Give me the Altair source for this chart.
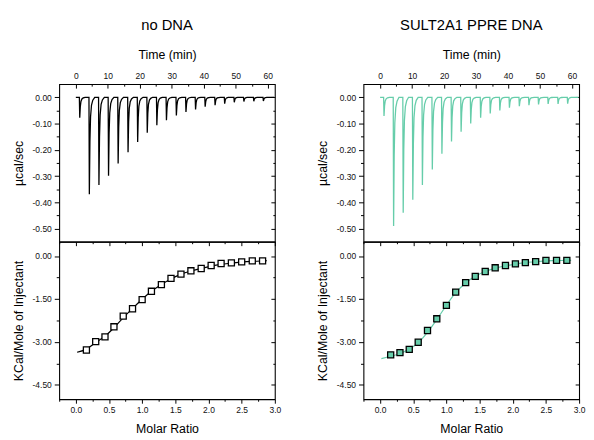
import altair as alt
import pandas as pd

# ---------------- data ----------------
inj_time = [1.1, 4.1, 7.1, 10.1, 13.1, 16.2, 19.2, 22.2, 25.2, 28.2,
            31.3, 34.3, 37.3, 40.3, 43.4, 46.4, 49.4, 52.4, 55.5, 58.5]
peak_nodna = [-0.078, -0.369, -0.334, -0.299, -0.252, -0.209, -0.170, -0.135, -0.106, -0.087,
              -0.069, -0.056, -0.046, -0.036, -0.030, -0.024, -0.019, -0.016, -0.015, -0.014]
peak_ppre = [-0.071, -0.490, -0.440, -0.390, -0.334, -0.275, -0.215, -0.168, -0.131, -0.100,
             -0.078, -0.062, -0.050, -0.040, -0.034, -0.030, -0.027, -0.025, -0.025, -0.024]

molar_ratio = [0.16, 0.30, 0.44, 0.575, 0.715, 0.855, 1.0, 1.14, 1.29, 1.435,
               1.585, 1.735, 1.89, 2.04, 2.19, 2.345, 2.50, 2.66, 2.815]
heat_nodna = [-3.28, -2.99, -2.82, -2.47, -2.10, -1.84, -1.52, -1.23, -1.00, -0.78,
              -0.63, -0.515, -0.435, -0.33, -0.26, -0.24, -0.205, -0.17, -0.17]
heat_ppre = [-3.45, -3.37, -3.26, -3.01, -2.60, -2.19, -1.72, -1.26, -0.93, -0.71,
             -0.54, -0.41, -0.33, -0.275, -0.23, -0.195, -0.15, -0.15, -0.15]

fit_ratio = [0.02, 0.16, 0.30, 0.44, 0.58, 0.72, 0.86, 1.0, 1.14, 1.29, 1.44,
             1.59, 1.74, 1.89, 2.04, 2.19, 2.34, 2.50, 2.66, 2.82, 2.88]
fit_nodna = [-3.36, -3.25, -3.02, -2.80, -2.49, -2.14, -1.82, -1.51, -1.23, -0.99, -0.79,
             -0.63, -0.52, -0.43, -0.35, -0.29, -0.25, -0.21, -0.185, -0.17, -0.165]
fit_ppre = [-3.58, -3.50, -3.40, -3.25, -3.02, -2.65, -2.20, -1.72, -1.28, -0.94, -0.70,
            -0.53, -0.42, -0.34, -0.28, -0.23, -0.20, -0.17, -0.16, -0.15, -0.15]

titles = ["no DNA", "SULT2A1 PPRE DNA"]

time_ticks = [0, 5, 10, 15, 20, 25, 30, 35, 40, 45, 50, 55, 60]
mu_ticks = [0.0, -0.05, -0.10, -0.15, -0.20, -0.25, -0.30, -0.35, -0.40, -0.45, -0.50]
ratio_ticks = [-0.25, 0.0, 0.25, 0.5, 0.75, 1.0, 1.25, 1.5, 1.75, 2.0, 2.25, 2.5, 2.75, 3.0]
kcal_ticks = [0.0, -0.75, -1.5, -2.25, -3.0, -3.75, -4.5]

# ---------------- style ----------------
TEAL = "#66CDAA"
FONT = "Liberation Sans, Arial, sans-serif"
TFONT = "Liberation Sans Narrow, Arial Narrow, Liberation Sans, sans-serif"
W, H = 219, 160

SPIKE_DT = [0.0, 0.12, 0.30, 0.50, 0.80, 1.20, 1.80]
SPIKE_FRAC = [0.0, 1.0, 0.45, 0.20, 0.08, 0.03, 0.0]

T_TEST = "datum.value % 10 == 0"
MU_TEST = "abs(round(datum.value * 100)) % 10 == 0"
R_TEST = "abs(round(datum.value * 100)) % 50 == 0"
K_TEST = "abs(round(datum.value * 100)) % 150 == 0"

common = dict(grid=False, domain=False, labelFont=TFONT, labelFontSize=8.6,
              labelColor="#111111", tickColor="black", tickWidth=1,
              titleFont=FONT, titleFontSize=12.5, titleFontWeight="normal",
              titleColor="black", labelOverlap=False, labelFlush=False)


def cond(test, a, b):
    return {"condition": {"test": test, "value": a}, "value": b}


def lab(test, fmt):
    return f"({test}) ? replace(format(datum.value, '{fmt}'), '\u2212', '-') : ''"


def out_axis(orient, values, test, fmt, title, major=5, minor=3, **kw):
    """labelled axis with outward major/minor ticks"""
    return alt.Axis(orient=orient, values=values, title=title,
                    tickSize=cond(test, major, minor),
                    labelExpr=lab(test, fmt), **common, **kw)


def in_ticks(orient, values, test, offset, major=4, minor=2):
    """tick-only axis moved onto the opposite frame edge, so its ticks point inward"""
    return alt.Axis(orient=orient, values=values, title=" ", labelExpr="''",
                    offset=offset, tickSize=cond(test, major, minor), **common)


def thermo(peaks):
    rows = [{"t": 0.0, "v": 0.0}]
    for t0, p in zip(inj_time, peaks):
        for dt, f in zip(SPIKE_DT, SPIKE_FRAC):
            rows.append({"t": t0 + dt, "v": p * f})
    rows.append({"t": 62.0, "v": 0.0})
    return pd.DataFrame(rows)


def top_panel(peaks, color, title):
    df = thermo(peaks)
    xs = alt.Scale(domain=[-5.2, 62.2], nice=False, zero=False)
    ys = alt.Scale(domain=[-0.55, 0.05], nice=False, zero=False)
    x_lab = alt.Axis(orient="top", values=time_ticks, title="Time (min)", ticks=False,
                     tickSize=0, labelExpr=lab(T_TEST, "d"), labelPadding=3.5,
                     titlePadding=11, **common)
    a = alt.Chart(df).mark_line(color=color, strokeWidth=1.3, clip=True).encode(
        x=alt.X("t:Q", scale=xs, axis=x_lab),
        y=alt.Y("v:Q", scale=ys,
                axis=out_axis("left", mu_ticks, MU_TEST, ".2f", "\u00b5cal/sec",
                              labelPadding=3, titlePadding=7)),
    )
    b = alt.Chart(df).mark_line(opacity=0, clip=True).encode(
        x=alt.X("t:Q", scale=xs, axis=in_ticks("bottom", time_ticks, T_TEST, -H)),
        y=alt.Y("v:Q", scale=ys, axis=in_ticks("left", mu_ticks, MU_TEST, -W)),
    )
    return alt.layer(a, b).resolve_axis(x="independent", y="independent").properties(
        width=W, height=H,
        title=alt.Title(title, font=FONT, fontSize=15, fontWeight="normal",
                        color="black", offset=16))


def bottom_panel(heat, fit, line_color, fill):
    pts = pd.DataFrame({"r": molar_ratio, "h": heat})
    fdf = pd.DataFrame({"r": fit_ratio, "h": fit})
    xs = alt.Scale(domain=[-0.25, 3.0], nice=False, zero=False)
    ys = alt.Scale(domain=[-5.0, 0.5], nice=False, zero=False)
    line = alt.Chart(fdf).mark_line(color=line_color, strokeWidth=1.2,
                                    interpolate="monotone").encode(
        x=alt.X("r:Q", scale=xs,
                axis=out_axis("bottom", ratio_ticks, R_TEST, ".1f", "Molar Ratio",
                              major=4, minor=2, labelPadding=2.5, titlePadding=8.5)),
        y=alt.Y("h:Q", scale=ys,
                axis=out_axis("left", kcal_ticks, K_TEST, ".2f", "KCal/Mole of Injectant",
                              labelPadding=3, titlePadding=7)),
    )
    sq = alt.Chart(pts).mark_square(size=38, filled=True, fill=fill, stroke="black",
                                    strokeWidth=1.3, opacity=1).encode(
        x=alt.X("r:Q", scale=xs, axis=in_ticks("bottom", ratio_ticks, R_TEST, -H)),
        y=alt.Y("h:Q", scale=ys, axis=in_ticks("left", kcal_ticks, K_TEST, -W)),
    )
    return alt.layer(line, sq).resolve_axis(x="independent", y="independent").properties(
        width=W, height=H)


tl = top_panel(peak_nodna, "black", titles[0])
tr = top_panel(peak_ppre, TEAL, titles[1])
bl = bottom_panel(heat_nodna, fit_nodna, "black", "white")
br = bottom_panel(heat_ppre, fit_ppre, TEAL, TEAL)

chart = alt.concat(tl, tr, bl, br, columns=2,
                   spacing={"row": 0, "column": 90}, bounds="flush").properties(
    padding={"left": 3, "top": 5, "right": 0, "bottom": 0}
).configure_view(stroke="black", strokeWidth=1.1)

chart.save("out.html", embed_options={"renderer": "svg", "actions": False})
